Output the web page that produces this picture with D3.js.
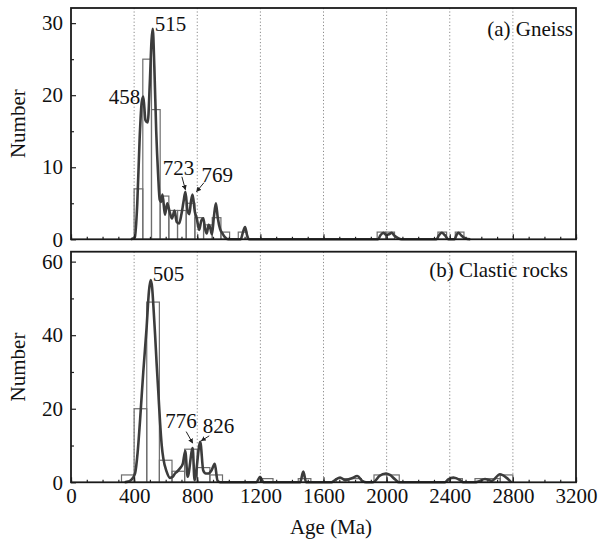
<!DOCTYPE html>
<html>
<head>
<meta charset="utf-8">
<script src="https://cdn.jsdelivr.net/npm/d3@7"></script>
<style>
  body { margin: 0; background: #fff; }
  text { font-family: "Liberation Serif", "Times New Roman", serif; fill: #111; }
</style>
</head>
<body>
<div id="chart"></div>
<script>
var WIDTH = 600, HEIGHT = 539;
var X_LEFT = 71, X_RIGHT = 576;

// shared age axis
var ageTicks = [0, 400, 800, 1200, 1600, 2000, 2400, 2800, 3200];
var gridAges = [400, 800, 1200, 1600, 2000, 2400, 2800];

// (a) Gneiss
var gneissBinWidth = 55;
var gneissBinStart = [400, 455, 510, 565, 620, 675, 730, 785, 840, 895, 950, 1060, 1940, 1995, 2325, 2435];
var gneissCount    = [7, 25, 18, 6, 4, 4, 5, 3, 2, 3, 1, 1, 1, 1, 1, 1];
var gneissCurveAge = [380, 405, 420, 435, 448, 458, 472, 486, 500, 510, 518, 528, 540, 552, 562, 570, 580, 595, 610, 625,
  640, 656, 670, 685, 700, 713, 725, 738, 750, 760, 770, 785, 797, 812, 826, 838, 850, 860, 872, 882, 893, 905, 918, 930,
  945, 960, 975, 995, 1075, 1090, 1103, 1115, 1128, 1945, 1962, 1980, 1998, 2015, 2032, 2050, 2070, 2095,
  2315, 2333, 2350, 2368, 2392, 2430, 2443, 2455, 2475, 2500, 2530];
var gneissCurveN   = [0, 0.3, 5, 14, 19, 19.8, 16.5, 16.2, 22, 27.5, 29.2, 24, 15, 9, 5.5, 5.2, 6.2, 3.4, 5, 3.8,
  2.9, 4, 2.4, 2.2, 3.5, 5.2, 6.6, 4, 3.5, 5.2, 6.2, 3.8, 2.9, 1.3, 2.6, 2.9, 1.4, 0.8, 2, 1.6, 0.7, 3, 5, 3,
  1.4, 0.8, 0.3, 0, 0, 1, 1.7, 0.6, 0, 0, 0.6, 0.9, 0.6, 0.7, 0.9, 0.5, 0.2, 0,
  0, 0.6, 0.9, 0.6, 0, 0, 0.6, 0.9, 0.5, 0.1, 0];
var gneissPeakLabel = ["458", "515", "723", "769"];
var gneissPeakAge   = [458, 518, 725, 770];
var gneissPeakN     = [19.8, 29.2, 6.6, 6.2];
var gneissYTicks = [0, 10, 20, 30];
var gneissYMinor = [5, 15, 25];

// (b) Clastic rocks
var clasticBinWidth = 80;
var clasticBinStart = [320, 400, 480, 560, 640, 720, 800, 880, 1200, 1440, 1680, 1760, 1920, 2000, 2400, 2560, 2640, 2720];
var clasticCount    = [2, 20, 49, 6, 3, 9, 4, 2, 1, 1, 1, 1, 2, 2, 1, 1, 1, 2];
var clasticCurveAge = [340, 363, 385, 406, 422, 437, 458, 479, 494, 505, 514, 522, 533, 543, 554, 564, 575, 585, 606, 627,
  645, 659, 675, 691, 708, 724, 739, 771, 783, 819, 838, 854, 870, 891, 911, 928, 945, 1175, 1198, 1220, 1452, 1472, 1490,
  1650, 1673, 1705, 1737, 1779, 1814, 1848, 1870, 1910, 1926, 1954, 1996, 2021, 2053, 2078,
  2370, 2391, 2423, 2465, 2485, 2560, 2581, 2623, 2666, 2718, 2761, 2790];
var clasticCurveN   = [0, 0.2, 0.8, 2.4, 8, 16.5, 30, 42, 52, 55, 53, 48, 40, 32, 24, 16.5, 10, 6.5, 2.9, 1.2,
  1.5, 2.4, 3, 3.8, 5, 8.5, 1.5, 9.3, 0.6, 11, 3.2, 2.4, 2.4, 3.3, 5, 0.5, 0, 0, 1.5, 0, 0, 2.9, 0,
  0, 0.6, 1.3, 0.6, 1.1, 1.7, 0.3, 0, 0, 0.3, 1.7, 2.4, 2.0, 0.8, 0,
  0, 0.8, 1.3, 0.6, 0, 0, 0.2, 0.9, 0.4, 2.2, 1.2, 0];
var clasticPeakLabel = ["505", "776", "826"];
var clasticPeakAge   = [505, 771, 819];
var clasticPeakN     = [55, 9.3, 11];
var clasticYTicks = [0, 20, 40, 60];
var clasticYMinor = [10, 30, 50];

var svg = d3.select("#chart").append("svg")
  .attr("width", WIDTH)
  .attr("height", HEIGHT);

svg.append("defs").append("marker")
  .attr("id", "arrow")
  .attr("viewBox", "0 0 10 10")
  .attr("refX", 9).attr("refY", 5)
  .attr("markerWidth", 5).attr("markerHeight", 5)
  .attr("orient", "auto")
  .append("path")
  .attr("d", "M0,0 L10,5 L0,10 z")
  .attr("fill", "#222");

var x = d3.scaleLinear().domain([0, 3200]).range([X_LEFT, X_RIGHT]);

var panels = [
  {
    name: "(a) Gneiss", top: 8, bottom: 239.3, yMax: 32.1, showX: false,
    yTicks: gneissYTicks, yMinor: gneissYMinor,
    bins: gneissBinStart.map(function (s, i) { return {x0: s, x1: s + gneissBinWidth, n: gneissCount[i]}; }),
    curve: gneissCurveAge.map(function (a, i) { return [a, gneissCurveN[i]]; }),
    peaks: gneissPeakLabel.map(function (l, i) { return {label: l, age: gneissPeakAge[i], n: gneissPeakN[i]}; }),
    titleX: 573, titleY: 36
  },
  {
    name: "(b) Clastic rocks", top: 251.7, bottom: 482.3, yMax: 62.7, showX: true,
    yTicks: clasticYTicks, yMinor: clasticYMinor,
    bins: clasticBinStart.map(function (s, i) { return {x0: s, x1: s + clasticBinWidth, n: clasticCount[i]}; }),
    curve: clasticCurveAge.map(function (a, i) { return [a, clasticCurveN[i]]; }),
    peaks: clasticPeakLabel.map(function (l, i) { return {label: l, age: clasticPeakAge[i], n: clasticPeakN[i]}; }),
    titleX: 568, titleY: 277
  }
];

// label placement relative to each peak (pixels): anchor, dx, dy, and optional arrow
var peakStyle = {
  "458": {anchor: "end",    dx: -3,  dy: 7},
  "515": {anchor: "start",  dx: 2,   dy: 2},
  "723": {anchor: "middle", dx: -7,  dy: -17, arrow: [-3.5, -15, 0, -2]},
  "769": {anchor: "start",  dx: 9,   dy: -13, arrow: [11.5, -12, 4, -3]},
  "505": {anchor: "start",  dx: 2,   dy: 1},
  "776": {anchor: "end",    dx: 4,   dy: -20, arrow: [-6.5, -16.5, 0, -5]},
  "826": {anchor: "start",  dx: 2.5, dy: -9,  arrow: [9, -6, 1, -1]}
};

panels.forEach(function (p) {
  var y = d3.scaleLinear().domain([0, p.yMax]).range([p.bottom, p.top]);
  var g = svg.append("g");

  // dotted grid lines
  g.selectAll(".grid").data(gridAges).enter().append("line")
    .attr("x1", function (d) { return x(d); })
    .attr("x2", function (d) { return x(d); })
    .attr("y1", p.top).attr("y2", p.bottom)
    .attr("stroke", "#8a8a8a")
    .attr("stroke-width", 1)
    .attr("stroke-dasharray", "1.2,2.2");

  // histogram
  g.selectAll(".bar").data(p.bins).enter().append("rect")
    .attr("x", function (d) { return x(d.x0); })
    .attr("width", function (d) { return x(d.x1) - x(d.x0); })
    .attr("y", function (d) { return y(d.n); })
    .attr("height", function (d) { return y(0) - y(d.n); })
    .attr("fill", "none")
    .attr("stroke", "#6e6e6e")
    .attr("stroke-width", 1.2);

  // probability curve
  var line = d3.line()
    .x(function (d) { return x(d[0]); })
    .y(function (d) { return y(d[1]); })
    .curve(d3.curveMonotoneX);

  g.append("path")
    .datum(p.curve)
    .attr("d", line)
    .attr("fill", "none")
    .attr("stroke", "#3c3c3c")
    .attr("stroke-width", 2.6)
    .attr("stroke-linejoin", "round");

  // axes, ticks pointing inwards
  var xMajor = d3.axisBottom(x).tickValues(ageTicks).tickSizeInner(-5).tickSizeOuter(0).tickPadding(8)
    .tickFormat(p.showX ? d3.format("d") : "");
  var xAx = g.append("g").attr("transform", "translate(0," + p.bottom + ")").call(xMajor);
  g.append("g").attr("transform", "translate(0," + p.bottom + ")")
    .call(d3.axisBottom(x).ticks(32).tickSizeInner(-2.5).tickSizeOuter(0).tickFormat(""));

  g.append("g").attr("transform", "translate(" + X_LEFT + ",0)")
    .call(d3.axisLeft(y).tickValues(p.yTicks).tickSizeInner(-5).tickSizeOuter(0).tickPadding(8));
  g.append("g").attr("transform", "translate(" + X_LEFT + ",0)")
    .call(d3.axisLeft(y).tickValues(p.yMinor).tickSizeInner(-3).tickSizeOuter(0).tickFormat(""));

  g.selectAll(".domain").remove();
  g.selectAll(".tick line").attr("stroke", "#222").attr("stroke-width", 1.2);
  g.selectAll(".tick text").style("font-size", "21px").attr("fill", "#111");
  xAx.selectAll(".tick text").attr("dy", "0.6em");

  // frame
  g.append("rect")
    .attr("x", X_LEFT).attr("y", p.top)
    .attr("width", X_RIGHT - X_LEFT).attr("height", p.bottom - p.top)
    .attr("fill", "none")
    .attr("stroke", "#1a1a1a")
    .attr("stroke-width", 1.8);

  // panel name
  g.append("text")
    .attr("x", p.titleX).attr("y", p.titleY)
    .attr("text-anchor", "end")
    .style("font-size", "21px")
    .text(p.name);

  // peak labels
  p.peaks.forEach(function (pk) {
    var s = peakStyle[pk.label];
    var px = x(pk.age), py = y(pk.n);
    g.append("text")
      .attr("x", px + s.dx).attr("y", py + s.dy)
      .attr("text-anchor", s.anchor)
      .style("font-size", "21px")
      .text(pk.label);
    if (s.arrow) {
      g.append("line")
        .attr("x1", px + s.arrow[0]).attr("y1", py + s.arrow[1])
        .attr("x2", px + s.arrow[2]).attr("y2", py + s.arrow[3])
        .attr("stroke", "#222").attr("stroke-width", 1)
        .attr("marker-end", "url(#arrow)");
    }
  });

  // y label
  svg.append("text")
    .attr("transform", "translate(18," + (p.top + p.bottom) / 2 + ") rotate(-90)")
    .attr("text-anchor", "middle")
    .attr("dy", "0.35em")
    .style("font-size", "21px")
    .text("Number");
});

svg.append("text")
  .attr("x", 331).attr("y", 534)
  .attr("text-anchor", "middle")
  .style("font-size", "21px")
  .text("Age (Ma)");
</script>
</body>
</html>
